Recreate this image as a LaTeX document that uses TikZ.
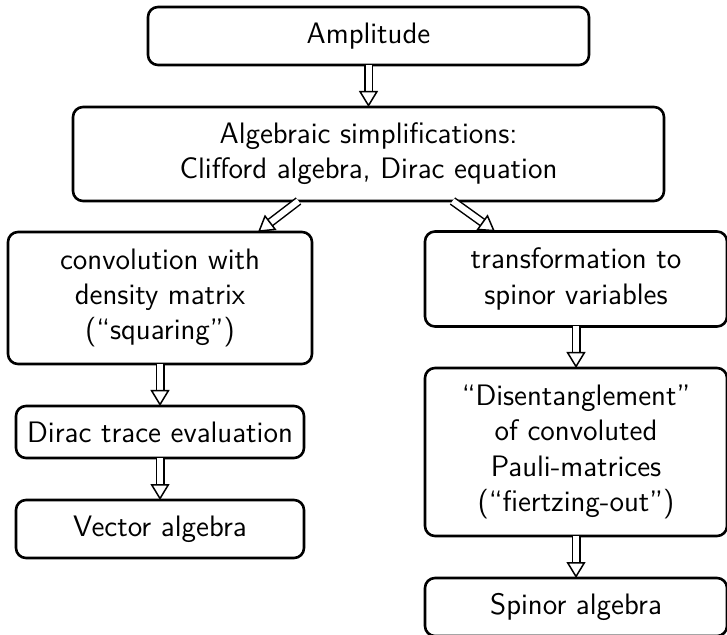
\documentclass[tikz,border=0pt]{standalone}
\usetikzlibrary{arrows.meta,positioning}

\begin{document}
\begin{tikzpicture}[x=0.5pt, y=-0.5pt, line width=1.3pt,
    stepbox/.style={draw=black, fill=white, rounded corners=5pt, align=center, font=\fontsize{14.8pt}{17.6pt}\selectfont\sffamily, inner sep=0pt, outer sep=0pt},
    conn/.style={draw=black, line width=0.75pt, double=white, double distance=3pt, -{Triangle[open, length=8pt, width=9.5pt, line width=0.75pt]}}
  ]
  \def\leftwidth{152pt}
  \def\rightwidth{151pt}
  \def\smallwidth{144pt}
  \def\rowheight{29pt}

  \fill[white] (0,0) rectangle (727,635);
  \useasboundingbox (0,0) rectangle (727,635);

  \begin{scope}[every node/.style={stepbox}]
    \node [minimum width=220.5pt, minimum height=\rowheight] (amp) at (368.5,36) {Amplitude};
    \node [minimum width=295.5pt, minimum height=47pt] (alg) at (368.5,154) {Algebraic simplifications:\\Clifford algebra, Dirac equation};
    \node [minimum width=\leftwidth, minimum height=66pt] (conv) at (160,298) {convolution with\\density matrix\\(``squaring'')};
    \node [minimum width=\smallwidth, minimum height=26pt] (dirac) at (160,432) {Dirac trace evaluation};
    \node [minimum width=\smallwidth, minimum height=\rowheight] (vec) at (160,529) {Vector algebra};
    \node [minimum width=\rightwidth, minimum height=47.5pt] (trans) at (576,279) {transformation to\\spinor variables};
    \node [minimum width=\rightwidth, minimum height=84pt] (dis) at (576,452) {``Disentanglement''\\of convoluted\\Pauli-matrices\\(``fiertzing-out'')};
    \node [minimum width=\rightwidth, minimum height=\rowheight] (spin) at (576,607) {Spinor algebra};
  \end{scope}

  \begin{scope}[every path/.style={conn}]
    \path (amp) -- (alg);
    \path ([xshift=-35pt]alg.south) -- ([xshift=49pt]conv.north);
    \path ([xshift=42pt]alg.south) -- ([xshift=-40.5pt]trans.north);
    \path (conv) -- (dirac);
    \path (dirac) -- (vec);
    \path (trans) -- (dis);
    \path (dis) -- (spin);
  \end{scope}
\end{tikzpicture}
\end{document}
